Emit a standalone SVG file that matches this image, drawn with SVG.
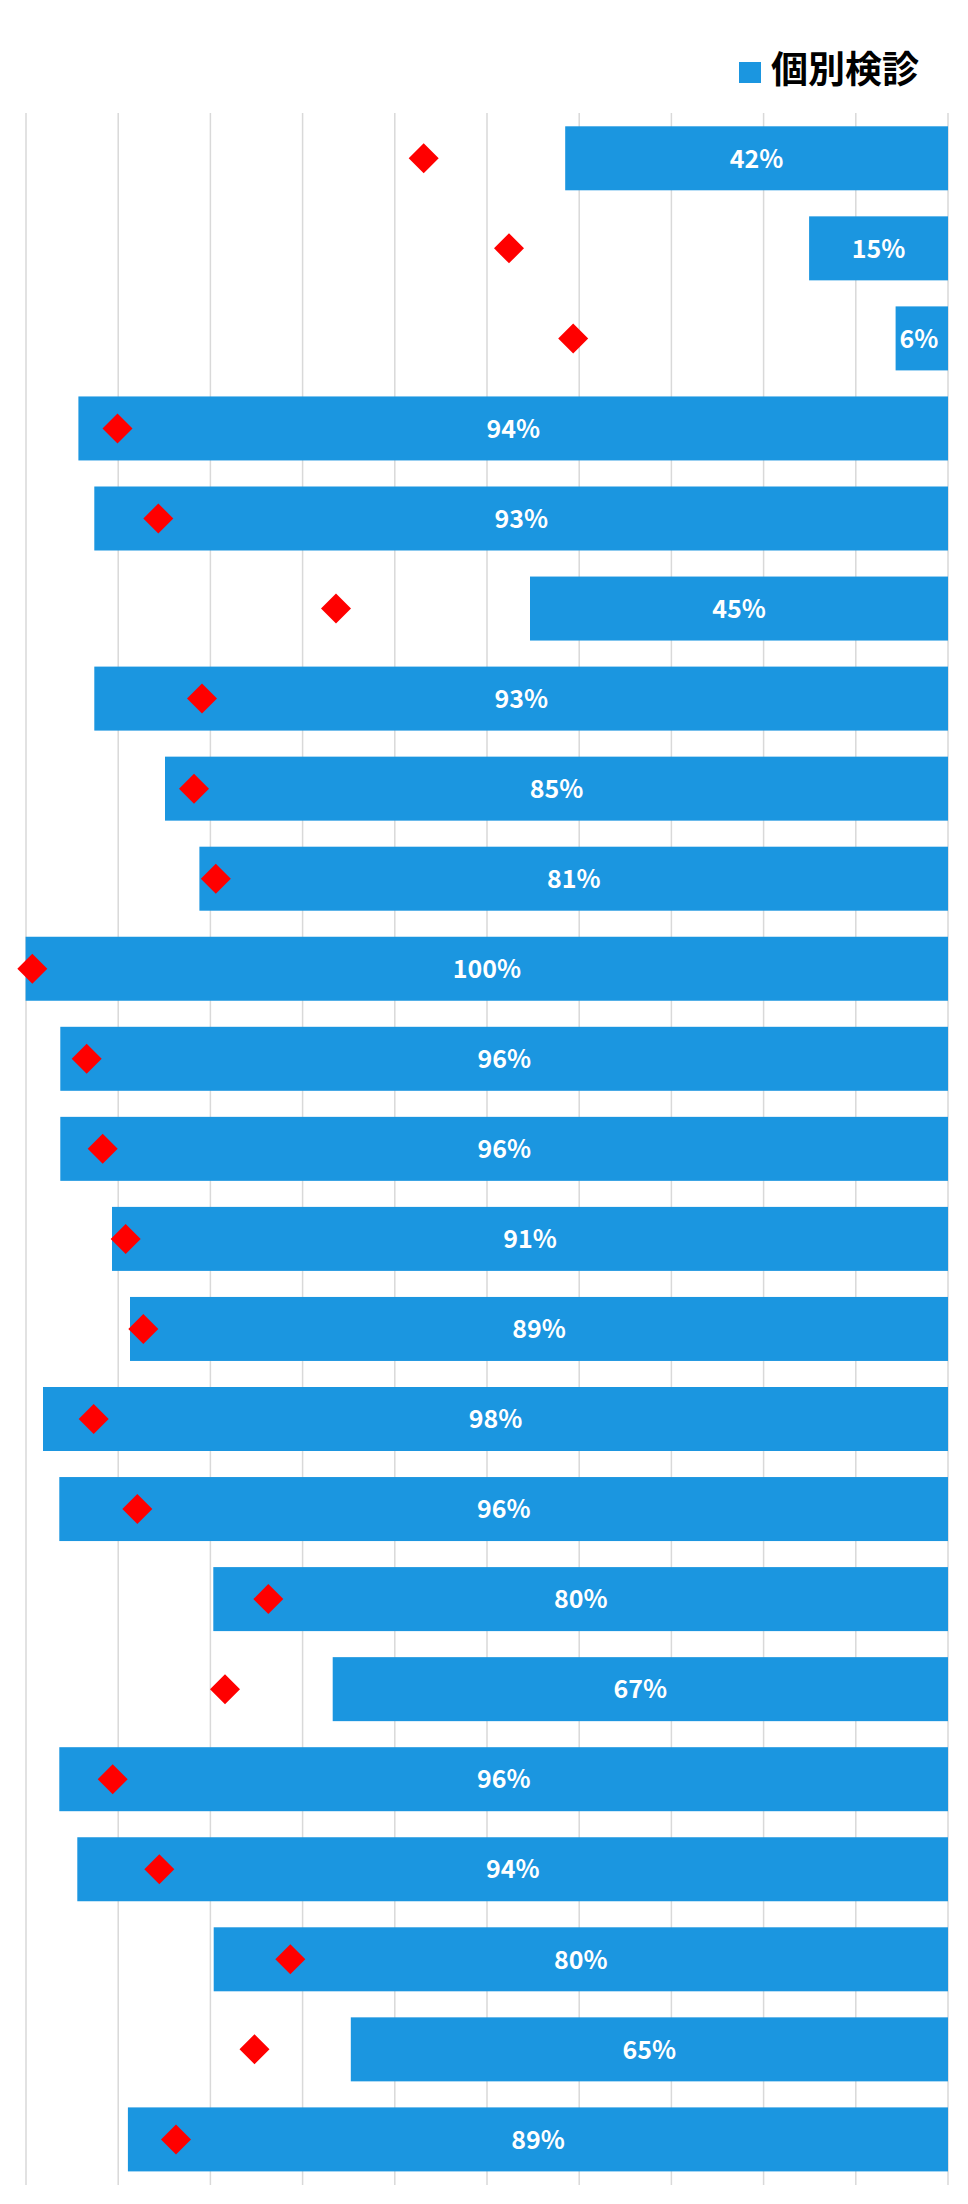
<svg xmlns="http://www.w3.org/2000/svg" xmlns:xlink="http://www.w3.org/1999/xlink" width="968" height="2204" viewBox="0 0 968 2204">
<style>
.grid{stroke:#d9d9d9;stroke-width:1.5}
.bar{fill:#1b96e0}
.lbl{fill:#ffffff;font-family:"Noto Sans CJK JP","Noto Sans",sans-serif;font-size:25px;font-weight:700;text-anchor:middle}
.leg{fill:#000000;font-family:"Noto Sans CJK JP",sans-serif;font-size:37px;font-weight:700}
.dia{fill:#ff0000}
</style>
<defs>
<path id="d" class="dia" d="M0-15L15 0L0 15L-15 0Z"/>
</defs>
<rect width="968" height="2204" fill="#ffffff"/>
<g id="legend">
<rect x="739" y="62" width="22" height="21" class="bar"/>
<text x="771" y="83" class="leg">個別検診</text>
</g>
<g id="gridlines">
<line class="grid" x1="26" y1="113" x2="26" y2="2185"/>
<line class="grid" x1="118.2" y1="113" x2="118.2" y2="2185"/>
<line class="grid" x1="210.4" y1="113" x2="210.4" y2="2185"/>
<line class="grid" x1="302.6" y1="113" x2="302.6" y2="2185"/>
<line class="grid" x1="394.8" y1="113" x2="394.8" y2="2185"/>
<line class="grid" x1="487" y1="113" x2="487" y2="2185"/>
<line class="grid" x1="579.2" y1="113" x2="579.2" y2="2185"/>
<line class="grid" x1="671.4" y1="113" x2="671.4" y2="2185"/>
<line class="grid" x1="763.6" y1="113" x2="763.6" y2="2185"/>
<line class="grid" x1="855.8" y1="113" x2="855.8" y2="2185"/>
<line class="grid" x1="948" y1="113" x2="948" y2="2185"/>
</g>
<g id="row1"><rect class="bar" x="565.2" y="126.3" width="382.8" height="64"/><text class="lbl" x="756.6" y="167.5">42%</text><use xlink:href="#d" x="423.7" y="158.3"/></g>
<g id="row2"><rect class="bar" x="809.1" y="216.35" width="138.9" height="64"/><text class="lbl" x="878.6" y="257.55">15%</text><use xlink:href="#d" x="509" y="248.35"/></g>
<g id="row3"><rect class="bar" x="895.6" y="306.4" width="52.4" height="64"/><text class="lbl" x="919" y="347.6">6%</text><use xlink:href="#d" x="573.2" y="338.4"/></g>
<g id="row4"><rect class="bar" x="78.4" y="396.45" width="869.6" height="64"/><text class="lbl" x="513.2" y="437.65">94%</text><use xlink:href="#d" x="117.5" y="428.45"/></g>
<g id="row5"><rect class="bar" x="94.3" y="486.5" width="853.7" height="64"/><text class="lbl" x="521.2" y="527.7">93%</text><use xlink:href="#d" x="158.3" y="518.5"/></g>
<g id="row6"><rect class="bar" x="530" y="576.55" width="418" height="64"/><text class="lbl" x="739" y="617.75">45%</text><use xlink:href="#d" x="336" y="608.55"/></g>
<g id="row7"><rect class="bar" x="94.3" y="666.6" width="853.7" height="64"/><text class="lbl" x="521.2" y="707.8">93%</text><use xlink:href="#d" x="202" y="698.6"/></g>
<g id="row8"><rect class="bar" x="165" y="756.65" width="783" height="64"/><text class="lbl" x="556.5" y="797.85">85%</text><use xlink:href="#d" x="194" y="788.65"/></g>
<g id="row9"><rect class="bar" x="199.4" y="846.7" width="748.6" height="64"/><text class="lbl" x="573.7" y="887.9">81%</text><use xlink:href="#d" x="215.8" y="878.7"/></g>
<g id="row10"><rect class="bar" x="25.6" y="936.75" width="922.4" height="64"/><text class="lbl" x="486.8" y="977.95">100%</text><use xlink:href="#d" x="32.3" y="968.75"/></g>
<g id="row11"><rect class="bar" x="60.3" y="1026.8" width="887.7" height="64"/><text class="lbl" x="504.2" y="1068">96%</text><use xlink:href="#d" x="86.7" y="1058.8"/></g>
<g id="row12"><rect class="bar" x="60.3" y="1116.85" width="887.7" height="64"/><text class="lbl" x="504.2" y="1158.05">96%</text><use xlink:href="#d" x="102.7" y="1148.85"/></g>
<g id="row13"><rect class="bar" x="112" y="1206.9" width="836" height="64"/><text class="lbl" x="530" y="1248.1">91%</text><use xlink:href="#d" x="125.7" y="1238.9"/></g>
<g id="row14"><rect class="bar" x="130" y="1296.95" width="818" height="64"/><text class="lbl" x="539" y="1338.15">89%</text><use xlink:href="#d" x="143.3" y="1328.95"/></g>
<g id="row15"><rect class="bar" x="43" y="1387" width="905" height="64"/><text class="lbl" x="495.5" y="1428.2">98%</text><use xlink:href="#d" x="93.7" y="1419"/></g>
<g id="row16"><rect class="bar" x="59.3" y="1477.05" width="888.7" height="64"/><text class="lbl" x="503.7" y="1518.25">96%</text><use xlink:href="#d" x="137.3" y="1509.05"/></g>
<g id="row17"><rect class="bar" x="213.3" y="1567.1" width="734.7" height="64"/><text class="lbl" x="580.7" y="1608.3">80%</text><use xlink:href="#d" x="268.3" y="1599.1"/></g>
<g id="row18"><rect class="bar" x="332.7" y="1657.15" width="615.3" height="64"/><text class="lbl" x="640.4" y="1698.35">67%</text><use xlink:href="#d" x="225" y="1689.15"/></g>
<g id="row19"><rect class="bar" x="59.3" y="1747.2" width="888.7" height="64"/><text class="lbl" x="503.7" y="1788.4">96%</text><use xlink:href="#d" x="112.7" y="1779.2"/></g>
<g id="row20"><rect class="bar" x="77.3" y="1837.25" width="870.7" height="64"/><text class="lbl" x="512.7" y="1878.45">94%</text><use xlink:href="#d" x="159.3" y="1869.25"/></g>
<g id="row21"><rect class="bar" x="213.7" y="1927.3" width="734.3" height="64"/><text class="lbl" x="580.9" y="1968.5">80%</text><use xlink:href="#d" x="290.3" y="1959.3"/></g>
<g id="row22"><rect class="bar" x="350.8" y="2017.35" width="597.2" height="64"/><text class="lbl" x="649.4" y="2058.55">65%</text><use xlink:href="#d" x="254.5" y="2049.35"/></g>
<g id="row23"><rect class="bar" x="127.9" y="2107.4" width="820.1" height="64"/><text class="lbl" x="538" y="2148.6">89%</text><use xlink:href="#d" x="176" y="2139.4"/></g>
</svg>
